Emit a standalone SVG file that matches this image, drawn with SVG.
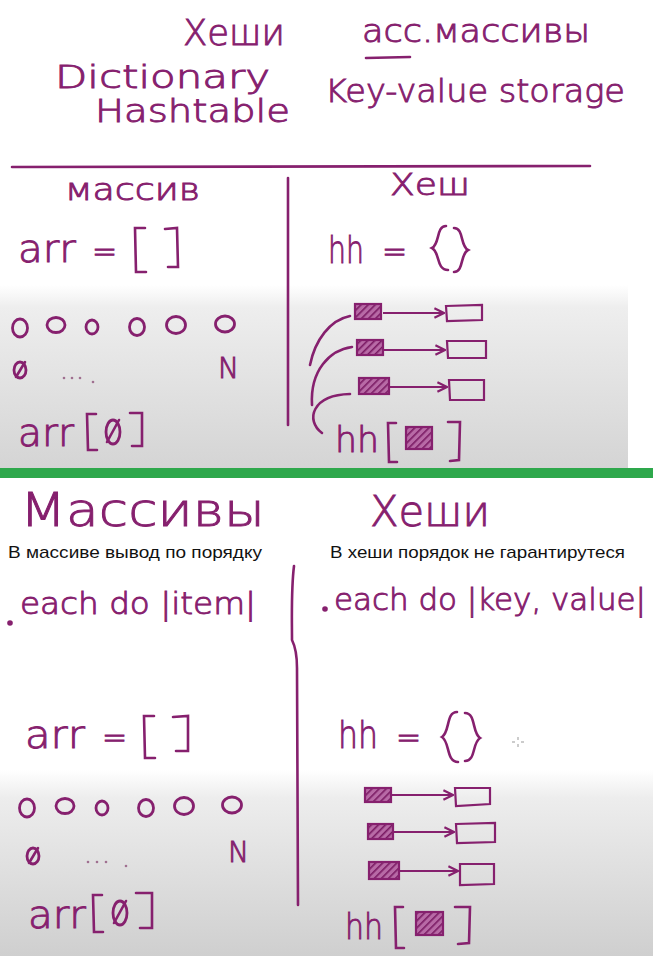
<svg xmlns="http://www.w3.org/2000/svg" width="653" height="956" viewBox="0 0 653 956">
<defs>
<linearGradient id="g1" x1="0" y1="0" x2="0" y2="1"><stop offset="0" stop-color="#ffffff"/><stop offset="0.12" stop-color="#eeeeee"/><stop offset="1" stop-color="#d4d4d4"/></linearGradient>
<linearGradient id="g2" x1="0" y1="0" x2="0" y2="1"><stop offset="0" stop-color="#ffffff"/><stop offset="0.15" stop-color="#ededed"/><stop offset="1" stop-color="#cfcfcf"/></linearGradient>
<pattern id="hatch" width="5" height="5" patternUnits="userSpaceOnUse" patternTransform="rotate(45)"><rect width="5" height="5" fill="#b86aa6"/><line x1="0" y1="0" x2="0" y2="5" stroke="#7a1a63" stroke-width="3.2"/></pattern>
<marker id="ah" viewBox="0 0 10 10" refX="9" refY="5" markerWidth="12" markerHeight="12" markerUnits="userSpaceOnUse" orient="auto"><path d="M1,1 L9,5 L1,9" fill="none" stroke="#86206e" stroke-width="1.8"/></marker>
</defs>
<style>
.h{font-family:"DejaVu Sans","Liberation Sans",sans-serif;font-weight:200;fill:#86206e;stroke:#86206e;stroke-width:0.9}
.t{font-family:"Liberation Sans",Arial,sans-serif;fill:#111;font-size:17px}
.ln{stroke:#86206e;stroke-width:2.6;fill:none;stroke-linecap:round}
.c{stroke:#86206e;stroke-width:2.8;fill:none}
.k{stroke:#86206e;stroke-width:2.2;fill:url(#hatch)}
.v{stroke:#86206e;stroke-width:2.2;fill:none}
.ar{stroke:#86206e;stroke-width:2.2;fill:none;marker-end:url(#ah)}
.dt{fill:#a07090}
</style>
<rect width="653" height="956" fill="#ffffff"/>
<rect x="0" y="285" width="628" height="185" fill="url(#g1)"/>
<rect x="0" y="770" width="653" height="186" fill="url(#g2)"/>
<rect x="0" y="468" width="653" height="10" fill="#2ea84c"/>

<g id="title">
<text class="h" x="183" y="45" font-size="36" textLength="102" lengthAdjust="spacingAndGlyphs">Хеши</text>
<text class="h" x="362" y="42" font-size="32" textLength="228" lengthAdjust="spacingAndGlyphs">асс.массивы</text>
<line class="ln" x1="366" y1="58" x2="410" y2="57"/>
<text class="h" x="55" y="88" font-size="32" textLength="215" lengthAdjust="spacingAndGlyphs">Dictionary</text>
<text class="h" x="95" y="122" font-size="32" textLength="195" lengthAdjust="spacingAndGlyphs">Hashtable</text>
<text class="h" x="325" y="102" font-size="32" textLength="300" lengthAdjust="spacingAndGlyphs">Key-value storage</text>
<line class="ln" x1="12" y1="167" x2="590" y2="166"/>
<line class="ln" x1="288" y1="178" x2="288" y2="425"/>
</g>

<g id="top-array">
<text class="h" x="65" y="200" font-size="30" textLength="135" lengthAdjust="spacingAndGlyphs">массив</text>
<text class="h" x="18" y="262" font-size="38" textLength="58" lengthAdjust="spacingAndGlyphs">arr</text>
<text class="h" x="92" y="262" font-size="30">=</text>
<path class="ln" d="M145,228 L135,228 L136,272 L146,272 M165,229 L177,228 L178,267 L168,267"/>
<ellipse class="c" cx="20" cy="328" rx="7.5" ry="9"/>
<ellipse class="c" cx="56" cy="325" rx="9" ry="7.5"/>
<ellipse class="c" cx="92" cy="327" rx="6" ry="7"/>
<ellipse class="c" cx="137" cy="327" rx="7.5" ry="8.5"/>
<ellipse class="c" cx="176" cy="325" rx="9.5" ry="8.5"/>
<ellipse class="c" cx="225" cy="324" rx="9.5" ry="8"/>
<ellipse class="c" cx="20" cy="370" rx="6" ry="8"/><line class="ln" x1="16" y1="377" x2="25" y2="362"/>
<circle class="dt" cx="64" cy="378" r="1.3"/><circle class="dt" cx="72" cy="378" r="1.3"/><circle class="dt" cx="80" cy="378" r="1.3"/><circle class="dt" cx="93" cy="382" r="1.3"/>
<text class="h" x="218" y="378" font-size="28">N</text>
<text class="h" x="18" y="446" font-size="38" textLength="56" lengthAdjust="spacingAndGlyphs">arr</text>
<path class="ln" d="M96,414 L87,414 L88,450 L97,450 M130,413 L142,413 L142,446 L132,446"/>
<ellipse class="c" cx="113" cy="432" rx="7" ry="12"/><line class="ln" x1="107" y1="442" x2="119" y2="420"/>
</g>

<g id="top-hash">
<text class="h" x="390" y="195" font-size="30" textLength="80" lengthAdjust="spacingAndGlyphs">Хеш</text>
<text class="h" x="328" y="263" font-size="38" textLength="36" lengthAdjust="spacingAndGlyphs">hh</text>
<text class="h" x="382" y="262" font-size="30">=</text>
<path class="ln" d="M446,226 C436,226 440,244 432,248 C440,252 436,270 448,270 M454,228 C464,228 460,246 468,250 C460,254 464,272 454,272"/>
<g id="kv1"><rect class="k" x="355" y="304" width="26" height="15"/><line class="ar" x1="383" y1="313" x2="444" y2="313"/><path class="v" d="M446,306 L482,305 L482,320 L447,321 Z"/></g>
<g id="kv2"><rect class="k" x="357" y="340" width="26" height="15"/><line class="ar" x1="384" y1="350" x2="445" y2="350"/><path class="v" d="M447,341 L486,341 L486,358 L448,358 Z"/></g>
<g id="kv3"><rect class="k" x="359" y="378" width="30" height="16"/><line class="ar" x1="390" y1="387" x2="447" y2="387"/><path class="v" d="M449,380 L484,380 L484,400 L450,400 Z"/></g>
<text class="h" x="335" y="452" font-size="36" textLength="44" lengthAdjust="spacingAndGlyphs">hh</text>
<path class="ln" d="M396,423 L388,423 L389,462 L397,462 M448,422 L460,422 L459,460 L450,461"/>
<rect class="k" x="406" y="427" width="26" height="22"/>
</g>
<g id="top-connectors">
<path class="ln" d="M310,365 C315,340 330,320 350,316"/>
<path class="ln" d="M312,405 C310,370 330,350 352,347"/>
<path class="ln" d="M322,433 C305,420 312,395 350,394"/>
</g>

<g id="bottom-headers">
<text class="h" x="20" y="526" font-size="46" textLength="245" lengthAdjust="spacingAndGlyphs">Массивы</text>
<text class="h" x="370" y="526" font-size="42" textLength="120" lengthAdjust="spacingAndGlyphs">Хеши</text>
<text class="t" x="8" y="558" textLength="254" lengthAdjust="spacingAndGlyphs">В массиве вывод по порядку</text>
<text class="t" x="330" y="558" textLength="295" lengthAdjust="spacingAndGlyphs">В хеши порядок не гарантирутеся</text>
</g>

<g id="bottom-each">
<circle cx="10" cy="623" r="2.8" fill="#86206e"/>
<text class="h" x="20" y="614" font-size="30" textLength="236" lengthAdjust="spacingAndGlyphs">each do |item|</text>
<circle cx="325" cy="609" r="2.8" fill="#86206e"/>
<text class="h" x="334" y="610" font-size="30" textLength="312" lengthAdjust="spacingAndGlyphs">each do |key, value|</text>
<path class="ln" d="M294,566 C291,590 292,620 292,640 C295,646 297,652 297,668 L298,905"/>
</g>

<g id="bottom-array">
<text class="h" x="25" y="748" font-size="38" textLength="60" lengthAdjust="spacingAndGlyphs">arr</text>
<text class="h" x="102" y="748" font-size="30">=</text>
<path class="ln" d="M154,716 L144,716 L145,758 L155,758 M173,717 L188,716 L188,751 L176,751"/>
<ellipse class="c" cx="27" cy="808" rx="7.5" ry="9"/>
<ellipse class="c" cx="65" cy="806" rx="9" ry="7.5"/>
<ellipse class="c" cx="102" cy="808" rx="6" ry="7"/>
<ellipse class="c" cx="146" cy="808" rx="7.5" ry="8.5"/>
<ellipse class="c" cx="184" cy="806" rx="9.5" ry="8.5"/>
<ellipse class="c" cx="232" cy="805" rx="9.5" ry="8"/>
<ellipse class="c" cx="33" cy="856" rx="6" ry="8"/><line class="ln" x1="29" y1="863" x2="38" y2="848"/>
<circle class="dt" cx="88" cy="862" r="1.3"/><circle class="dt" cx="97" cy="862" r="1.3"/><circle class="dt" cx="106" cy="862" r="1.3"/><circle class="dt" cx="126" cy="866" r="1.3"/>
<text class="h" x="228" y="862" font-size="28">N</text>
<text class="h" x="28" y="928" font-size="38" textLength="58" lengthAdjust="spacingAndGlyphs">arr</text>
<path class="ln" d="M102,895 L93,895 L94,932 L103,932 M136,893 L152,893 L152,928 L140,928"/>
<ellipse class="c" cx="120" cy="913" rx="7" ry="12"/><line class="ln" x1="114" y1="923" x2="126" y2="901"/>
</g>

<g id="bottom-hash">
<text class="h" x="338" y="748" font-size="38" textLength="40" lengthAdjust="spacingAndGlyphs">hh</text>
<text class="h" x="396" y="748" font-size="30">=</text>
<path class="ln" d="M457,712 C446,712 450,732 442,737 C450,742 446,762 458,762 M465,713 C476,713 472,733 480,738 C472,743 476,761 465,761"/>
<path d="M518,737 v3 M518,744 v3 M512,742 h3 M521,742 h3" stroke="#999" stroke-width="1"/>
<g id="kv4"><rect class="k" x="365" y="788" width="26" height="14"/><line class="ar" x1="392" y1="795" x2="453" y2="795"/><path class="v" d="M455,788 L490,788 L490,804 L456,806 Z"/></g>
<g id="kv5"><rect class="k" x="368" y="824" width="25" height="15"/><line class="ar" x1="394" y1="832" x2="454" y2="832"/><path class="v" d="M456,824 L495,823 L495,842 L457,843 Z"/></g>
<g id="kv6"><rect class="k" x="369" y="862" width="30" height="17"/><line class="ar" x1="400" y1="871" x2="458" y2="871"/><path class="v" d="M460,864 L494,864 L494,884 L460,885 Z"/></g>
<text class="h" x="345" y="939" font-size="36" textLength="38" lengthAdjust="spacingAndGlyphs">hh</text>
<path class="ln" d="M403,907 L395,907 L396,948 L404,948 M455,907 L470,907 L469,943 L458,944"/>
<rect class="k" x="416" y="912" width="27" height="23"/>
</g>
</svg>
